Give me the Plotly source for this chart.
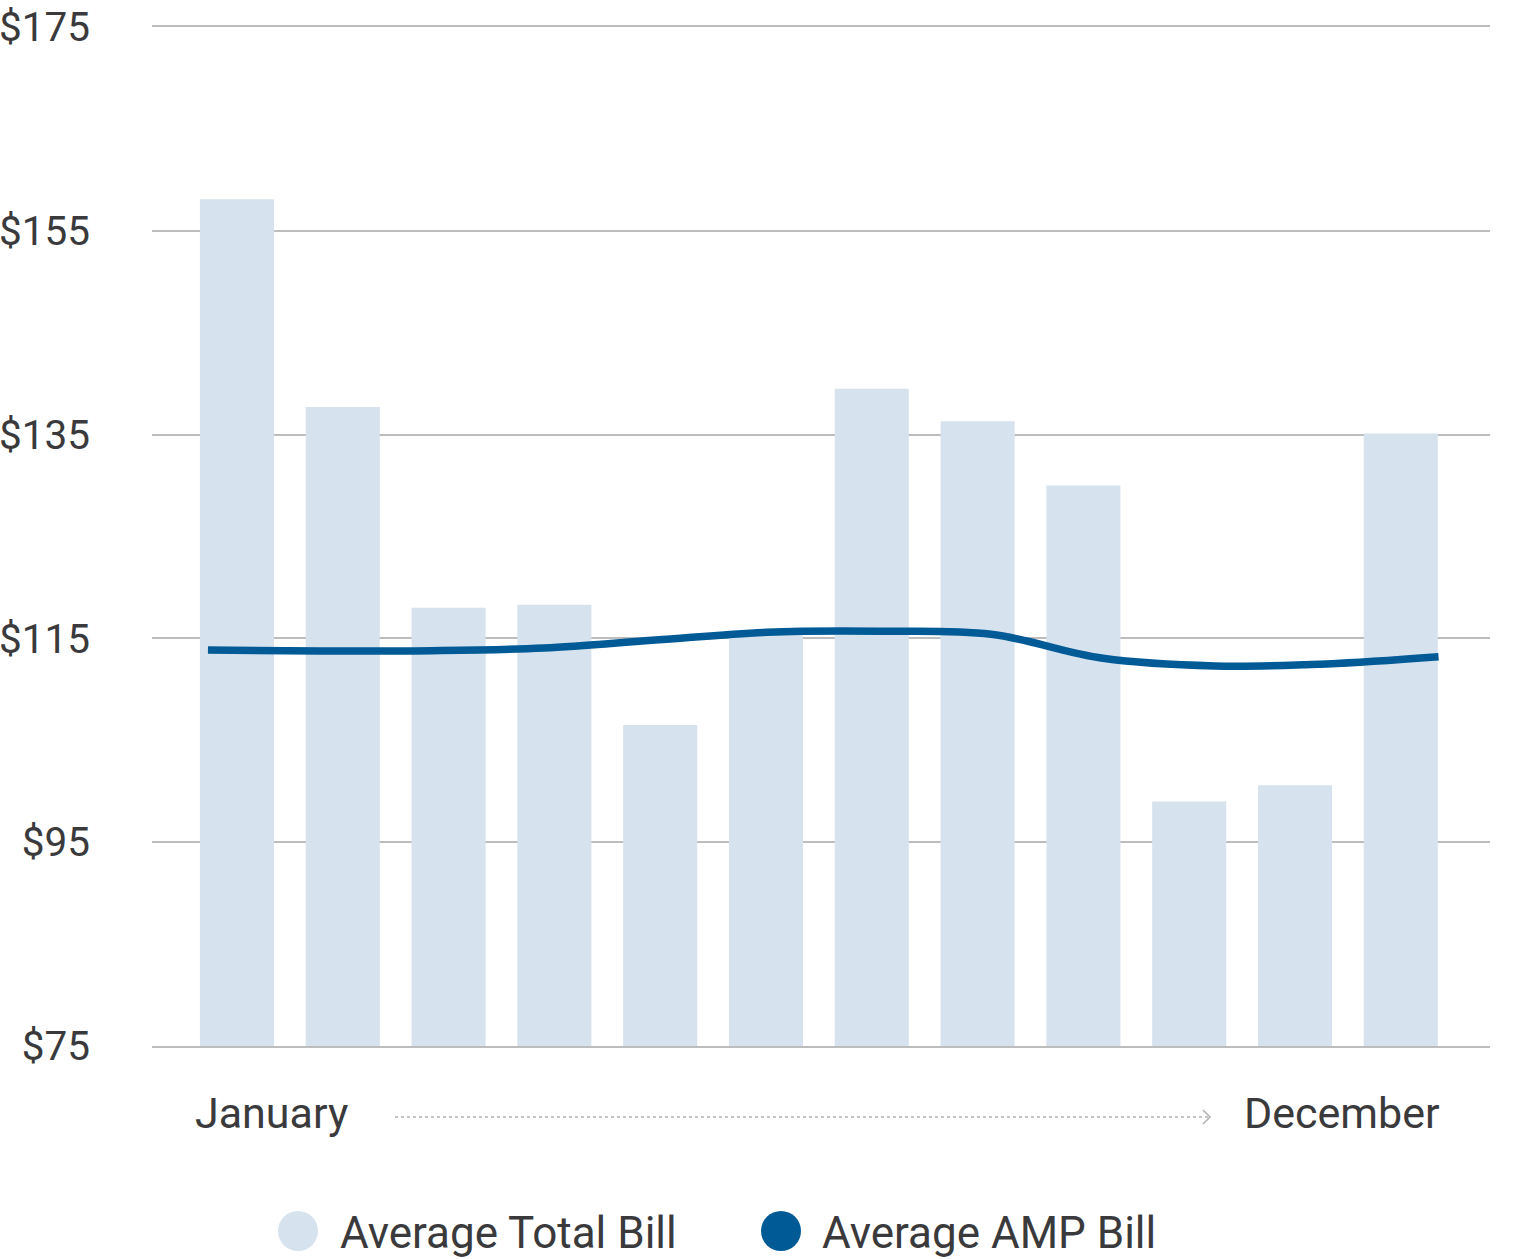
import plotly.graph_objects as go

months = ["Jan", "Feb", "Mar", "Apr", "May", "Jun", "Jul", "Aug", "Sep", "Oct", "Nov", "Dec"]
avg_total_bill = [158.1, 137.7, 118.0, 118.3, 106.5, 115.5, 139.5, 136.3, 130.0, 99.0, 100.6, 135.1]
avg_amp_bill = [113.86, 113.76, 113.8, 114.06, 114.84, 115.6, 115.7, 115.4, 113.05, 112.3, 112.5, 113.2]
y_ticks = [75, 95, 115, 135, 155, 175]
y_tick_labels = ["$75", "$95", "$115", "$135", "$155", "$175"]

BAR_COLOR = "#D6E3EF"
LINE_COLOR = "#005A96"
TEXT_COLOR = "#3a3a3c"
GRID_COLOR = "#bdbdbd"
FONT = "Roboto"

idx = list(range(len(months)))

fig = go.Figure()
fig.add_trace(go.Bar(x=idx, y=avg_total_bill, width=0.7, marker=dict(color=BAR_COLOR, line=dict(width=0)),
                     name="Average Total Bill", showlegend=False, xaxis="x", yaxis="y"))
fig.add_trace(go.Scatter(x=idx, y=avg_amp_bill, mode="lines",
                         line=dict(color=LINE_COLOR, width=7.5, shape="spline", smoothing=1.0),
                         name="Average AMP Bill", showlegend=False, xaxis="x2", yaxis="y"))

W, H = 1524, 1259
L, R, T, B = 152, 34, 27, 213
pw, ph = W - L - R, H - T - B


def px(x):  # screen x -> paper
    return (x - L) / pw


def py(y):  # screen y -> paper
    return (H - B - y) / ph


shapes = [
    dict(type="line", xref="paper", yref="paper", x0=px(395), x1=px(1209), y0=py(1117), y1=py(1117),
         line=dict(color="#b3b3b3", width=1.6, dash="dot")),
    dict(type="path", xref="paper", yref="paper",
         path=f"M {px(1203)},{py(1110)} L {px(1210)},{py(1117)} L {px(1203)},{py(1124)}",
         line=dict(color="#b3b3b3", width=1.6)),
    dict(type="circle", xref="paper", yref="paper", x0=px(278), x1=px(318), y0=py(1211), y1=py(1251),
         fillcolor=BAR_COLOR, line=dict(width=0)),
    dict(type="circle", xref="paper", yref="paper", x0=px(761), x1=px(801), y0=py(1211), y1=py(1251),
         fillcolor=LINE_COLOR, line=dict(width=0)),
]

annotations = [
    dict(text="January", xref="paper", yref="paper", x=px(193), y=py(1113), xanchor="left", yanchor="middle",
         showarrow=False, font=dict(family=FONT, size=43, color=TEXT_COLOR)),
    dict(text="December", xref="paper", yref="paper", x=px(1442), y=py(1113), xanchor="right", yanchor="middle",
         showarrow=False, font=dict(family=FONT, size=43, color=TEXT_COLOR)),
    dict(text="Average Total Bill", xref="paper", yref="paper", x=px(338), y=py(1233), xanchor="left", yanchor="middle",
         showarrow=False, font=dict(family=FONT, size=44, color=TEXT_COLOR)),
    dict(text="Average AMP Bill", xref="paper", yref="paper", x=px(820), y=py(1233), xanchor="left", yanchor="middle",
         showarrow=False, font=dict(family=FONT, size=44, color=TEXT_COLOR)),
]

fig.update_layout(
    width=W, height=H,
    margin=dict(l=L, r=R, t=T, b=B, autoexpand=False),
    paper_bgcolor="white", plot_bgcolor="white",
    font=dict(family=FONT, color=TEXT_COLOR),
    showlegend=False,
    xaxis=dict(range=[-0.803, 11.843], showticklabels=False, showgrid=False, zeroline=False,
               showline=True, mirror=True, linecolor=GRID_COLOR, linewidth=2, layer="below traces",
               ticks="", fixedrange=True),
    xaxis2=dict(range=[-0.5, 11.46], overlaying="x", visible=False),
    yaxis=dict(range=[75, 175], tickvals=y_ticks, ticktext=y_tick_labels, showgrid=True, gridcolor=GRID_COLOR, gridwidth=2,
               zeroline=False, showline=False, ticks="", ticklabelstandoff=61,
               tickfont=dict(family=FONT, size=40.5, color=TEXT_COLOR)),
    shapes=shapes,
    annotations=annotations,
)

fig.write_html(
    "out.html",
    config={"displayModeBar": False},
    post_script="document.body.style.margin='0';document.body.style.overflow='hidden';"
                "document.documentElement.style.overflow='hidden';",
)
